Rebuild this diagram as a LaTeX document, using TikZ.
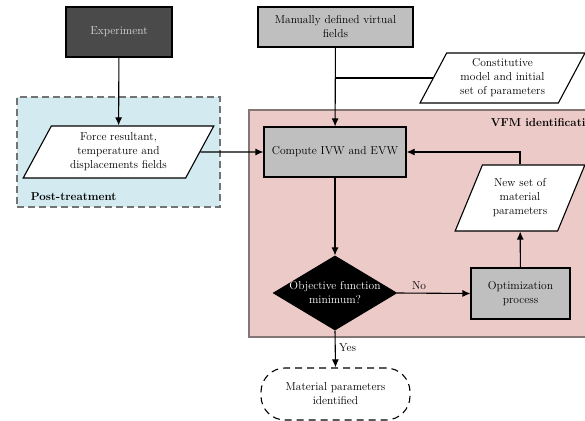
\documentclass[tikz,border=0pt]{standalone}
\usetikzlibrary{arrows.meta,shapes,positioning}
\definecolor{expgray}{HTML}{4A4A4A}
\definecolor{boxgray}{HTML}{BFBFBF}
\definecolor{postblue}{HTML}{D3EAF0}
\definecolor{vfmpink}{HTML}{ECCAC8}
\definecolor{vfmedge}{HTML}{857676}
\tikzset{%
    dark_block/.style={%
        rectangle, draw=black, fill=expgray, text=white!85!black, align=center
    },
    gray_block/.style={%
        rectangle, draw=black, fill=boxgray, align=center
    },
    data/.style={%
        trapezium, trapezium left angle=63.4, trapezium right angle=116.6,
        trapezium stretches=true, draw=black, fill=white, align=center, inner sep=2pt
    },
    decision/.style={%
        diamond, draw=black, fill=black, inner sep=0pt
    },
    result/.style={%
        rectangle, rounded corners=24pt, dash pattern=on 7pt off 5pt, draw=black, fill=white, align=center
    },
    group_box/.style={%
        rectangle, draw=#1!90!black, dash pattern=on 7pt off 4pt
    },
    flow/.style={%
        ->, >={Latex[length=8pt,width=7pt]}
    },
}
\begin{document}
\begin{tikzpicture}[x=1pt, y=1pt, line width=1.1pt, font=\fontsize{11.5}{14}\selectfont]
      \useasboundingbox (0,0) rectangle (585,420);
      \clip (0,0) rectangle (585,420);

      % groups
      \node[group_box=gray, fill=postblue, minimum width=203, minimum height=110] (post) at (118.5,268) {};
      \node[anchor=base west, font=\fontsize{11.5}{14}\selectfont\bfseries] (post_lbl) at (27,219) {Post-treatment};
      \node[draw=vfmedge, fill=vfmpink, minimum width=381, minimum height=227] (vfm) at (439.5,196.5) {};
      \node[anchor=base west, font=\fontsize{11.5}{14}\selectfont\bfseries] (vfm_lbl) at (487,293) {VFM identification};

      % blocks
      \node[dark_block, minimum width=106, minimum height=50] (exp) at (119,388) {Experiment};
      \node[data, minimum width=191, minimum height=52] (force) at (118.5,268) {Force resultant,\\temperature and\\displacements fields};
      \node[gray_block, minimum width=155, minimum height=40] (manual) at (335.5,393) {Manually defined virtual\\fields};
      \node[data, minimum width=165, minimum height=50] (const) at (502.5,342) {Constitutive\\model and initial\\set of parameters};
      \node[gray_block, minimum width=142, minimum height=50] (ivw) at (335,268) {Compute IVW and EVW};
      \node[decision, minimum width=123, minimum height=74, aspect=1.66,
            label={[align=center, text=white]center:Objective function\\minimum?}] (obj) at (335,127) {};
      \node[gray_block, minimum width=99, minimum height=51] (opt) at (520.5,126.5) {Optimization\\process};
      \node[data, minimum width=130, minimum height=66] (newset) at (520,222) {New set of\\material\\parameters};
      \node[result, minimum width=149, minimum height=52] (mat) at (335.5,26) {Material parameters\\identified};

      % connections
      \draw[flow] (exp) -- (force);
      \draw[flow] (force.east) -- (ivw.west);
      \draw (const.west) -- (const.west -| manual.south);
      \draw[flow] (manual) -- (ivw);
      \draw[flow] (ivw) -- (obj);
      \draw[flow] (obj.east) -- (opt.west) node[pos=0.3, above]{No};
      \draw[flow] (opt) -- (newset);
      \draw[flow] (newset.north) |- (ivw.east);
      \draw[flow] (obj.south) -- (mat.north) node[pos=0.45, right]{Yes};
    \end{tikzpicture}
\end{document}
